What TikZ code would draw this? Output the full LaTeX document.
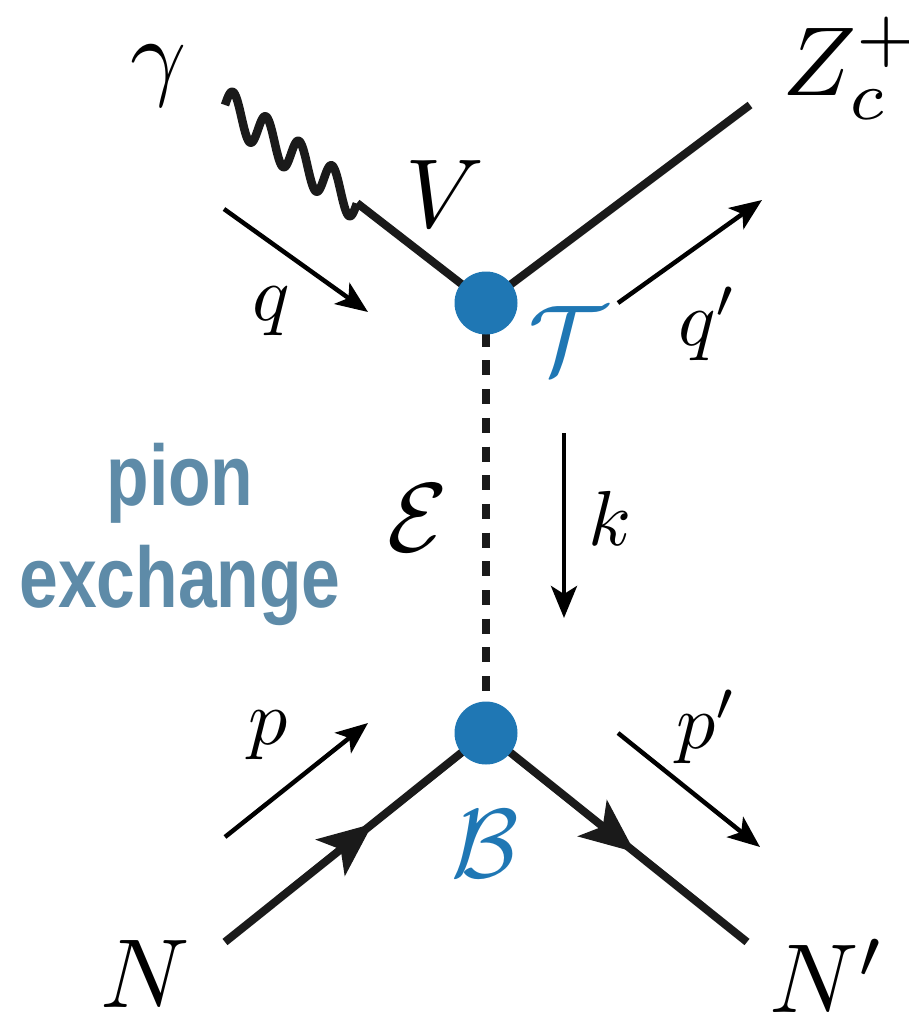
\documentclass[tikz,border=0pt]{standalone}
\usepackage{fontspec}
\newfontfamily\pionfont{Liberation Sans}[FakeStretch=0.81]
\usetikzlibrary{arrows.meta,decorations.markings}
\definecolor{vblue}{HTML}{1F77B4}
\definecolor{pionc}{HTML}{5E8BA8}
\definecolor{lineblk}{HTML}{1A1A1A}
\tikzset{
  particle/.style={line width=8pt, draw=lineblk},
  photon/.style={line width=8.5pt, draw=lineblk, line join=round},
  scalar/.style={line width=7.7pt, draw=lineblk, dash pattern=on 15pt off 13.7pt},
  fermion/.style={particle, postaction={decorate},
    decoration={markings, mark=at position #1 with
      {\arrow{Stealth[length=54pt,width=46pt,inset=13pt]}}}},
  momentum/.style={line width=4.5pt, draw=black,
    -{Stealth[length=32pt,width=26pt,inset=8pt]}},
  vertexdot/.style={circle, fill=vblue, minimum size=63pt, inner sep=0pt},
  biglabel/.style={inner sep=0pt, scale=9.8, transform shape},
  smalllabel/.style={inner sep=0pt, scale=7.8, transform shape},
  bluelabel/.style={biglabel, text=vblue},
  pionlabel/.style={inner sep=0pt, text=pionc,
    font=\pionfont\bfseries\fontsize{86pt}{86pt}\selectfont}
}
\begin{document}
\begin{tikzpicture}[x=1pt, y=-1pt]
\useasboundingbox (0,0) rectangle (908,1015);
% vertices and external points
\coordinate (T) at (486,303);
\coordinate (B) at (486,733);
\coordinate (g0) at (225,105);
\coordinate (v1) at (357,203);
\coordinate (zend) at (750,105);
\coordinate (nin) at (225,942);
\coordinate (nout) at (747,942);
% momentum arrow ends
\coordinate (qa) at (224,209);  \coordinate (qb) at (368,312);
\coordinate (qpa) at (618,303); \coordinate (qpb) at (762,200);
\coordinate (ka) at (564,433);  \coordinate (kb) at (564,618);
\coordinate (pa) at (225,837);  \coordinate (pb) at (368,723);
\coordinate (ppa) at (618,733); \coordinate (ppb) at (760,847);
% photon: g0 -> v1, wave displaced vertically
\draw[photon, shift={(g0)}] plot[domain=0:1, samples=161, smooth]
  ({132*\x},{98*\x-19*sin(1440*\x)});
\draw[particle] (v1) -- (T);
\draw[particle] (T) -- (zend);
\draw[scalar] (T) -- (B);
\draw[fermion=0.566] (nin) -- (B);
\draw[fermion=0.57] (B) -- (nout);
% momenta
\draw[momentum] (qa) -- (qb);
\draw[momentum] (qpa) -- (qpb);
\draw[momentum] (ka) -- (kb);
\draw[momentum] (pa) -- (pb);
\draw[momentum] (ppa) -- (ppb);
% vertex blobs
\node[vertexdot] (Tv) at (T) {};
\node[vertexdot] (Bv) at (B) {};
% labels
\node[biglabel] (lgamma) at (159,76) {$\gamma$};
\node[biglabel] (lV) at (445,194) {$V$};
\node[biglabel, anchor=base west] (lZ) at (781,95) {$Z_c^+$};
\node[smalllabel] (lq) at (271,311) {$q$};
\node[bluelabel] (lT) at (568,340) {$\mathcal{T}$};
\node[smalllabel] (lqp) at (708,324) {$q'$};
\node[biglabel] (lE) at (418,518) {$\mathcal{E}$};
\node[smalllabel] (lk) at (610,518) {$k$};
\node[smalllabel] (lp) at (268,735) {$p$};
\node[smalllabel] (lpp) at (707,727) {$p'$};
\node[bluelabel] (lB) at (485,844) {$\mathcal{B}$};
\node[biglabel] (lN) at (145,974) {$N$};
\node[biglabel] (lNp) at (828,976) {$N'$};
\node[pionlabel, anchor=base] (pion1) at (180,505) {pion};
\node[pionlabel, anchor=base] (pion2) at (180,607) {exchange};
\end{tikzpicture}
\end{document}
